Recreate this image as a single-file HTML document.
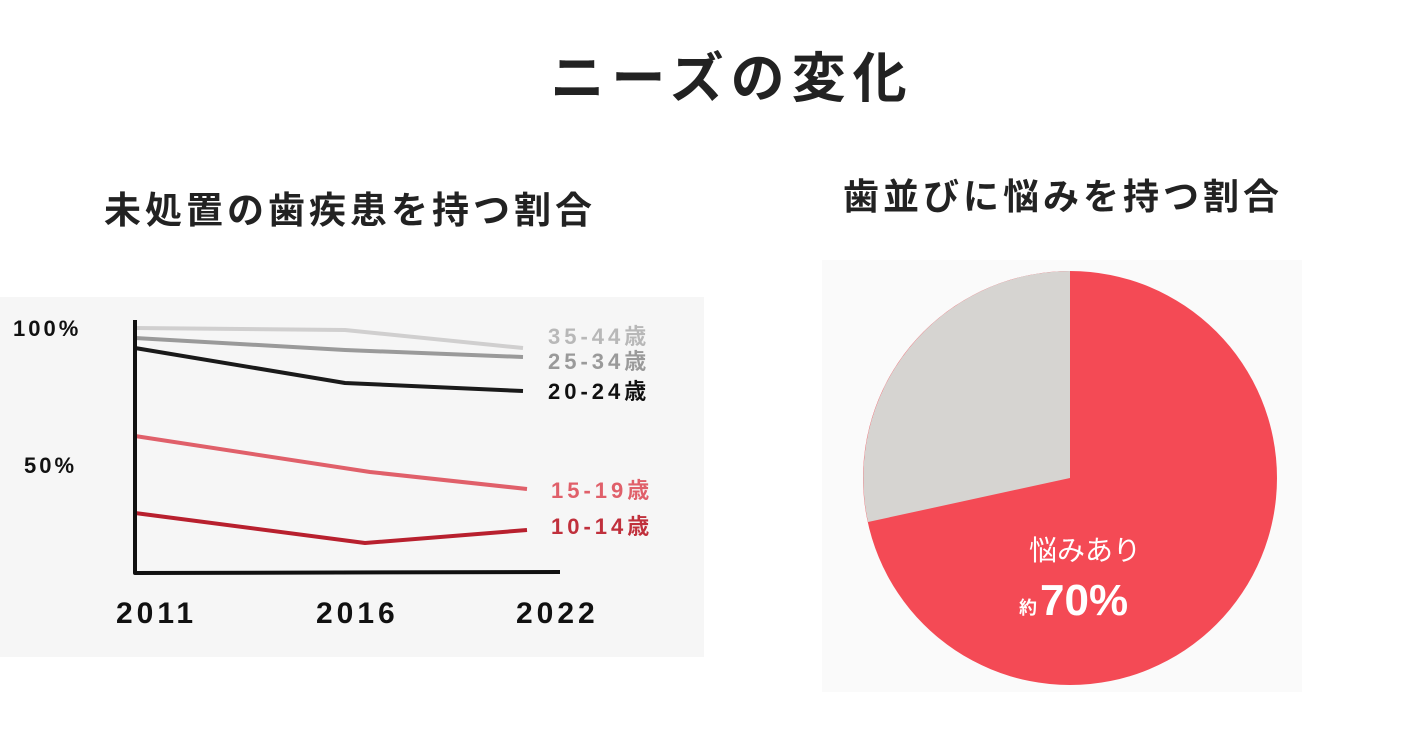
<!DOCTYPE html>
<html><head><meta charset="utf-8"><style>
body{margin:0;width:1408px;height:736px;background:#fff;position:relative;overflow:hidden;font-family:"Liberation Sans","Noto Sans CJK JP",sans-serif;}
.t{position:absolute;font-weight:bold;color:#222;white-space:nowrap;transform:translateX(-50%);}
</style></head><body>
<div class="t" style="left:732px;top:34px;font-size:54px;letter-spacing:7px;">ニーズの変化</div>
<div class="t" style="left:350px;top:180px;font-size:37px;letter-spacing:4px;">未処置の歯疾患を持つ割合</div>
<div class="t" style="left:1063px;top:168px;font-size:36px;letter-spacing:4px;">歯並びに悩みを持つ割合</div>
<svg width="1408" height="736" style="position:absolute;left:0;top:0">
<rect x="0" y="297" width="704" height="360" fill="#f6f6f6"/>
<rect x="822" y="260" width="480" height="432" fill="#fafafa"/>
<g fill="none" stroke-width="4" stroke-linejoin="round">
<polyline points="135,328 345,330 523,348" stroke="#d0cfcf"/>
<polyline points="135,338 345,350 523,357" stroke="#9a9a9a"/>
<polyline points="135,348 345,383 523,391" stroke="#1a1a1a"/>
<polyline points="135,436 370,472 527,489" stroke="#e0606a"/>
<polyline points="135,513 365,543 527,530" stroke="#b8202e"/>
<polyline points="135,320 135,573 560,572" stroke="#111"/>
</g>
<g font-family="Liberation Sans,Noto Sans CJK JP,sans-serif" font-weight="bold" font-size="22" letter-spacing="4">
<text x="548" y="344" fill="#b8b8b8">35-44歳</text>
<text x="548" y="369" fill="#9a9a9a">25-34歳</text>
<text x="548" y="399" fill="#111">20-24歳</text>
<text x="551" y="498" fill="#e0606a">15-19歳</text>
<text x="551" y="534" fill="#c0303c">10-14歳</text>
<text x="13" y="336" fill="#111" letter-spacing="3">100%</text>
<text x="24" y="473" fill="#111" letter-spacing="3">50%</text>
</g>
<g font-family="Liberation Sans,sans-serif" font-weight="bold" font-size="30" letter-spacing="4" fill="#111">
<text x="116" y="623">2011</text>
<text x="316" y="623">2016</text>
<text x="516" y="623">2022</text>
</g>
<circle cx="1070" cy="478" r="207" fill="#f44a55"/>
<path d="M1070,478 L1070,271 A207,207 0 0 0 868,522 Z" fill="#d6d4d1"/>
<text x="1085" y="560" text-anchor="middle" fill="#fff" font-size="28" font-family="Liberation Sans,Noto Sans CJK JP,sans-serif">悩みあり</text>
<text x="1019" y="614" fill="#fff" font-size="18" font-weight="bold" font-family="Liberation Sans,Noto Sans CJK JP,sans-serif">約</text>
<text x="1040" y="615" fill="#fff" font-size="44" font-weight="bold" font-family="Liberation Sans,sans-serif">70%</text>
</svg>
</body></html>
